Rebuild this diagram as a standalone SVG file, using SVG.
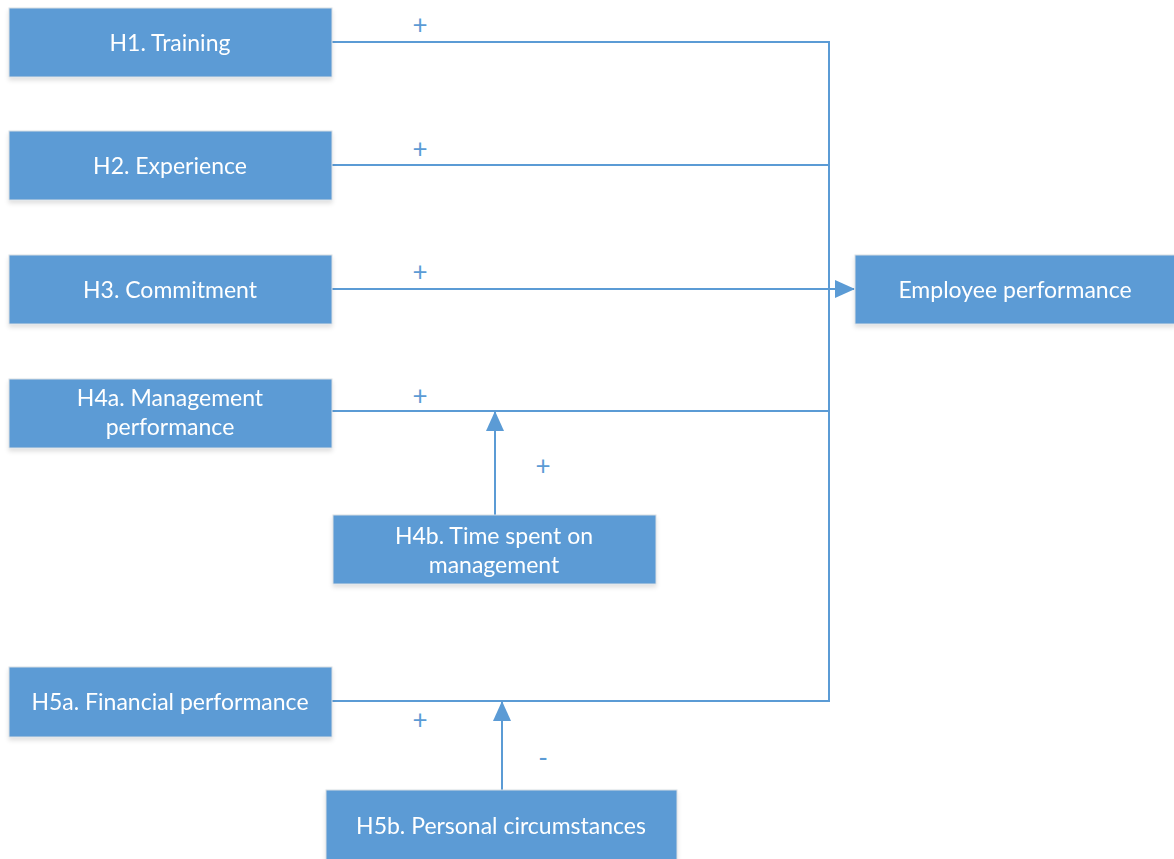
<svg xmlns="http://www.w3.org/2000/svg" width="1174" height="859" viewBox="0 0 1174 859">
<defs>
<style>
.box{fill:#5B9BD5;stroke:#d8dde3;stroke-width:1}
.lbl{fill:#ffffff;font-family:Lato,"Open Sans",sans-serif;font-size:23px;text-anchor:middle;dominant-baseline:central}
.ln{stroke:#5B9BD5;stroke-width:2;fill:none}
.sg{fill:#5B9BD5;font-family:Lato,"Open Sans",sans-serif;font-size:26px;text-anchor:middle;dominant-baseline:central}
</style>
<filter id="sh" x="-5%" y="-10%" width="110%" height="130%">
<feDropShadow dx="0" dy="3" stdDeviation="2" flood-color="#000" flood-opacity="0.12"/>
</filter>
<marker id="ahb" markerWidth="20" markerHeight="18" refX="19" refY="9" orient="auto" markerUnits="userSpaceOnUse" viewBox="0 0 20 18">
<path d="M0,0 L20,9 L0,18 Z" fill="#5B9BD5"/>
</marker>
</defs>
<rect width="1174" height="859" fill="#ffffff"/>
<g id="connectors">
<line class="ln" x1="332" y1="42" x2="830" y2="42"/>
<line class="ln" x1="332" y1="165" x2="829" y2="165"/>
<line class="ln" x1="332" y1="289" x2="829" y2="289"/>
<line class="ln" x1="332" y1="411" x2="829" y2="411"/>
<line class="ln" x1="332" y1="701" x2="830" y2="701"/>
<line class="ln" x1="829" y1="41" x2="829" y2="702"/>
<line class="ln" x1="829" y1="289" x2="854" y2="289" marker-end="url(#ahb)"/>
<line class="ln" x1="495" y1="515" x2="495" y2="412" marker-end="url(#ahb)"/>
<line class="ln" x1="502" y1="790" x2="502" y2="702" marker-end="url(#ahb)"/>
<text class="sg" x="420" y="24">+</text>
<text class="sg" x="420" y="148">+</text>
<text class="sg" x="420" y="271">+</text>
<text class="sg" x="420" y="395">+</text>
<text class="sg" x="543" y="465">+</text>
<text class="sg" x="420" y="719">+</text>
<text class="sg" x="543" y="757">-</text>
</g>
<g id="h1" filter="url(#sh)"><rect class="box" x="9" y="8" width="323" height="69"/><text class="lbl" x="170" y="42">H1. Training</text></g>
<g id="h2" filter="url(#sh)"><rect class="box" x="9" y="131" width="323" height="69"/><text class="lbl" x="170" y="165">H2. Experience</text></g>
<g id="h3" filter="url(#sh)"><rect class="box" x="9" y="255" width="323" height="69"/><text class="lbl" x="170" y="289">H3. Commitment</text></g>
<g id="h4a" filter="url(#sh)"><rect class="box" x="9" y="379" width="323" height="69"/><text class="lbl" x="170" y="397">H4a. Management</text><text class="lbl" x="170" y="426">performance</text></g>
<g id="h4b" filter="url(#sh)"><rect class="box" x="333" y="515" width="323" height="69"/><text class="lbl" x="494" y="535">H4b. Time spent on</text><text class="lbl" x="494" y="564">management</text></g>
<g id="h5a" filter="url(#sh)"><rect class="box" x="9" y="667" width="323" height="70"/><text class="lbl" x="170" y="701">H5a. Financial performance</text></g>
<g id="h5b" filter="url(#sh)"><rect class="box" x="326" y="790" width="351" height="72"/><text class="lbl" x="501" y="825">H5b. Personal circumstances</text></g>
<g id="emp" filter="url(#sh)"><rect class="box" x="855" y="255" width="320" height="69"/><text class="lbl" x="1015" y="289">Employee performance</text></g>
</svg>
